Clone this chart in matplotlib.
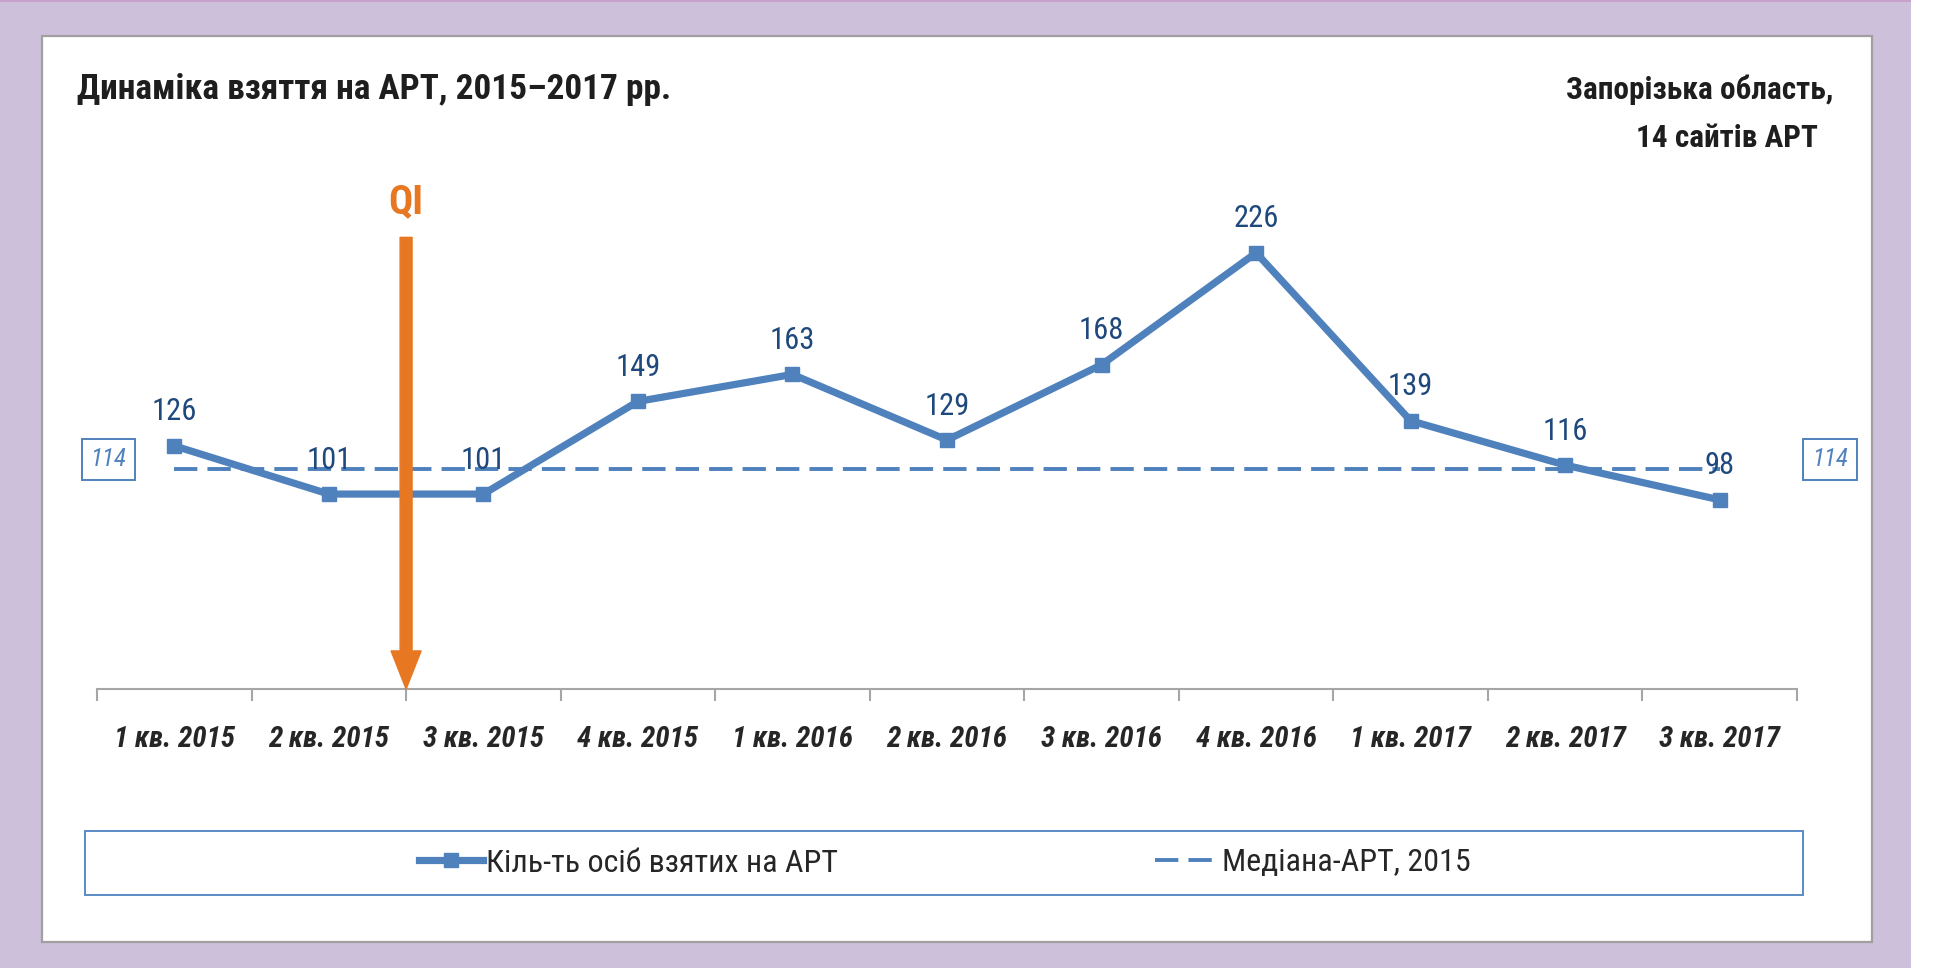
import numpy as np
import matplotlib
matplotlib.use('Agg')
import matplotlib.pyplot as plt
from matplotlib import font_manager as fm
from matplotlib.patches import Rectangle
import matplotlib.transforms as mtransforms

# ---------------- data ----------------
quarters = ['1 кв. 2015', '2 кв. 2015', '3 кв. 2015', '4 кв. 2015',
            '1 кв. 2016', '2 кв. 2016', '3 кв. 2016', '4 кв. 2016',
            '1 кв. 2017', '2 кв. 2017', '3 кв. 2017']
art_counts = [126, 101, 101, 149, 163, 129, 168, 226, 139, 116, 98]
median_2015 = 114
qi_position = 1.5          # boundary between "2 кв. 2015" and "3 кв. 2015"
qi_arrow_top = 234
qi_label_y = 252
title = 'Динаміка взяття на АРТ, 2015–2017 рр.'
region_lines = ['Запорізька область,', '14 сайтів АРТ']
series_label = 'Кіль-ть осіб взятих на АРТ'
median_label = 'Медіана-АРТ, 2015'

# ---------------- fonts ----------------
available = {f.name for f in fm.fontManager.ttflist}
narrow = next((f for f in ['Liberation Sans Narrow', 'Roboto Condensed',
                           'Open Sans Condensed', 'Liberation Sans']
               if f in available), 'DejaVu Sans')
FAM = [narrow, 'DejaVu Sans']
plt.rcParams['font.family'] = FAM

BLUE = '#4F81BD'
DARKBLUE = '#1F497D'
ORANGE = '#E87722'
GREY = '#A6A6A6'
TXT = '#1E1E1E'

W, H = 1950, 968
fig = plt.figure(figsize=(W / 100, H / 100), dpi=100)
fig.patch.set_facecolor('#CCC0DA')


def px_rect(x0, y0, x1, y1, **kw):
    r = Rectangle((x0 / W, 1 - y1 / H), (x1 - x0) / W, (y1 - y0) / H,
                  transform=fig.transFigure, **kw)
    fig.add_artist(r)
    return r


# background decorations
px_rect(1911, 0, W, H, facecolor='white', edgecolor='none', zorder=-20)
px_rect(0, 0, 1911, 2, facecolor='#C7A0CB', edgecolor='none', zorder=-20)
px_rect(42, 36, 1872, 942, facecolor='white', edgecolor='#A0A0A0',
        linewidth=1.6, zorder=-10)
px_rect(85, 831, 1803, 895, facecolor='white', edgecolor='#5B8BC5',
        linewidth=1.4, zorder=-5)

# ---------------- axes ----------------
Y0, SCALE, YMAX = 689, 1.93, 250
ax = fig.add_axes([97 / W, 1 - Y0 / H, 1700 / W, YMAX * SCALE / H])
ax.set_facecolor('none')
x = np.arange(len(quarters))
ax.set_xlim(-0.5, len(quarters) - 0.5)
ax.set_ylim(0, YMAX)

line_main, = ax.plot(x, art_counts, color=BLUE, lw=5.2, marker='s', ms=10,
                     label=series_label, zorder=4)
line_med, = ax.plot([x[0], x[-1]], [median_2015, median_2015], color=BLUE,
                    lw=2.8, dashes=(6, 2.6), label=median_label, zorder=3)

for xi, v in zip(x, art_counts):
    ax.annotate(str(v), (xi, v), xytext=(0, 24.5), textcoords='offset points',
                ha='center', va='center', fontsize=22, color=DARKBLUE, zorder=5)

# ticks
ax.set_xticks(np.arange(len(quarters) + 1) - 0.5)
ax.set_xticklabels([])
ax.set_xticks(x, minor=True)
ax.set_xticklabels(quarters, minor=True, fontsize=21, fontweight='bold',
                   fontstyle='italic', color='#262626')
ax.tick_params(axis='x', which='major', direction='out', length=8.6,
               width=1.5, color=GREY)
ax.tick_params(axis='x', which='minor', length=0, pad=26)
ax.set_yticks([])
for s in ['left', 'top', 'right']:
    ax.spines[s].set_visible(False)
ax.spines['bottom'].set_color(GREY)
ax.spines['bottom'].set_linewidth(1.5)

# median value boxes
trans = mtransforms.blended_transform_factory(ax.transAxes, ax.transData)
for fx in (0.0068, 1.0194):
    ax.annotate(str(median_2015), xy=(fx, median_2015), xycoords=trans,
                xytext=(0, 7), textcoords='offset points', ha='center',
                va='center', fontsize=18, fontstyle='italic', color=BLUE,
                annotation_clip=False,
                bbox=dict(boxstyle='square,pad=0.35', fc='white', ec=BLUE, lw=1.4))

# QI arrow
ax.annotate('', xy=(qi_position, 0), xytext=(qi_position, qi_arrow_top),
            arrowprops=dict(arrowstyle='simple,head_length=2.74,head_width=2.16,tail_width=0.86',
                            mutation_scale=10, color=ORANGE, shrinkA=0, shrinkB=0),
            annotation_clip=False, zorder=6)
ax.text(qi_position, qi_label_y, 'QI', ha='center', va='center', fontsize=29,
        fontweight='bold', color=ORANGE, clip_on=False)

# ---------------- texts ----------------
fig.text(77 / W, 1 - 90 / H, title, ha='left', va='center', fontsize=25.5,
         fontweight='bold', color=TXT)
fig.text(1833 / W, 1 - 90 / H, region_lines[0], ha='right', va='center',
         fontsize=22.5, fontweight='bold', color=TXT)
fig.text(1818 / W, 1 - 138 / H, region_lines[1], ha='right', va='center',
         fontsize=22.5, fontweight='bold', color=TXT)

# ---------------- legend ----------------
fig.legend([line_main, line_med], [series_label, median_label], loc='center',
           bbox_to_anchor=(945 / W, 1 - 863 / H), ncol=2, frameon=False,
           prop=fm.FontProperties(family=FAM, size=23), handlelength=2.0,
           handletextpad=0.12, columnspacing=9.9, labelcolor='#262626')

fig.savefig('out.png', dpi=100, facecolor=fig.get_facecolor())
